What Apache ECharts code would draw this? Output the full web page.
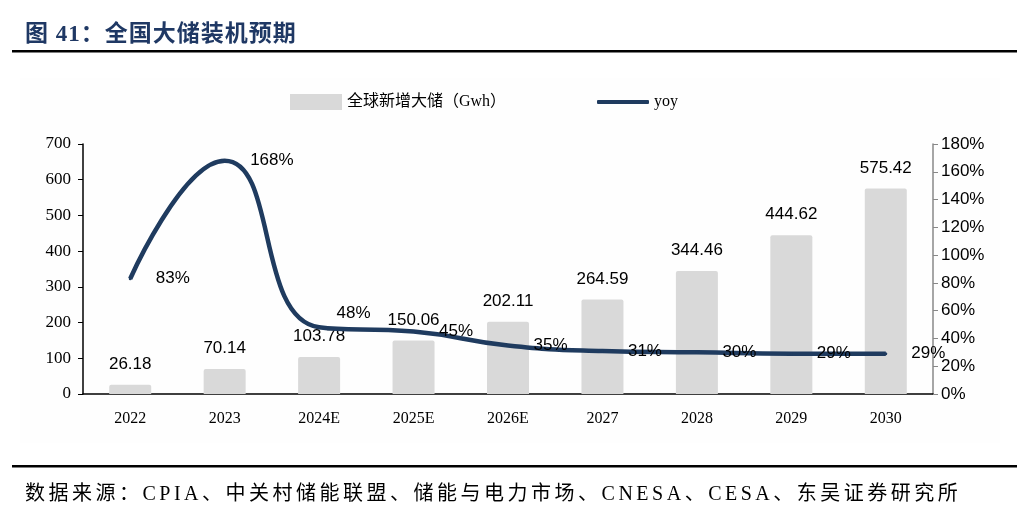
<!DOCTYPE html>
<html><head><meta charset="utf-8">
<script src="https://cdn.jsdelivr.net/npm/echarts@6/dist/echarts.min.js"></script>
<style>
html,body{margin:0;padding:0;background:#fff;}
#wrap{position:relative;width:1019px;height:510px;}
#c{position:absolute;left:0;top:0;width:1019px;height:510px;}
#title{position:absolute;left:25px;top:14px;font:bold 23px "Liberation Serif","Noto Sans CJK SC",serif;color:#1f3864;letter-spacing:1px;white-space:nowrap;}
#foot{position:absolute;left:25px;top:477px;font:20px "Liberation Serif","Noto Sans CJK SC",serif;color:#000;letter-spacing:3.5px;white-space:nowrap;}
</style>
</head><body><div id="wrap"><div id="c"></div>
<div id="title">图 41：全国大储装机预期</div>
<div id="foot">数据来源：CPIA、中关村储能联盟、储能与电力市场、CNESA、CESA、东吴证券研究所</div>
</div>
<script>
const categories = ['2022','2023','2024E','2025E','2026E','2027','2028','2029','2030'];
const storage = [26.18, 70.14, 103.78, 150.06, 202.11, 264.59, 344.46, 444.62, 575.42];
const yoy = [83, 168, 48, 45, 35, 31, 30, 29, 29];
const leftTicks = {min: 0, max: 700, interval: 100};
const rightTicks = {min: 0, max: 180, interval: 20};

const serif = '"Liberation Serif","Times New Roman","Noto Sans CJK SC",serif';
const sans = '"Liberation Sans",Arial,sans-serif';
const yoyData = yoy.map((v, i) => i === 2 ? {value: v, label: {offset: [-8, -14]}} : v);
const chart = echarts.init(document.getElementById('c'));
chart.setOption({
  animation: false,
  graphic: [
    {type:'rect', shape:{x:20,y:78,width:980,height:365}, style:{fill:'#fefefe'}, z:-10},
    {type:'rect', shape:{x:12,y:50,width:1005,height:2.5}, style:{fill:'#000'}},
    {type:'rect', shape:{x:12,y:465,width:1005,height:2.5}, style:{fill:'#000'}}
  ],
  legend: [
    {top: 89, left: 285, textStyle: {fontFamily: serif, fontSize: 16, color: '#000'},
     data: [{name:'全球新增大储（Gwh）', icon:'rect', itemStyle:{color:'#d9d9d9'}}],
     itemWidth: 52, itemHeight: 16, itemGap: 6},
    {top: 89, left: 592, textStyle: {fontFamily: serif, fontSize: 16, color: '#000'},
     data: [{name:'yoy', icon:'roundRect', itemStyle:{color:'#1f3b5f', opacity:1}}],
     itemWidth: 52, itemHeight: 4, itemGap: 2}
  ],
  grid: {left: 83, right: 86, top: 144, bottom: 116},
  xAxis: {
    type: 'category', data: categories,
    axisLine: {lineStyle:{color:'#000', width:1.5}},
    axisTick: {inside: true, length: 5, lineStyle:{color:'#000'}},
    axisLabel: {fontFamily: serif, fontSize: 16, color:'#000', margin: 17}
  },
  yAxis: [
    {type:'value', min:leftTicks.min, max:leftTicks.max, interval:leftTicks.interval,
     splitLine:{show:false},
     axisLine:{show:true, lineStyle:{color:'#000', width:1.5}},
     axisTick:{show:true, length:5, lineStyle:{color:'#000'}},
     axisLabel:{fontFamily: serif, fontSize:17, color:'#000', margin:12}},
    {type:'value', min:rightTicks.min, max:rightTicks.max, interval:rightTicks.interval,
     position:'right', splitLine:{show:false},
     axisLine:{show:true, lineStyle:{color:'#888', width:1.5}},
     axisTick:{show:true, length:5, lineStyle:{color:'#888'}},
     axisLabel:{fontFamily: sans, fontSize:17, color:'#000', margin:8, formatter:'{value}%'}}
  ],
  series: [
    {name:'全球新增大储（Gwh）', type:'bar', data: storage, barWidth: 42,
     itemStyle:{color:'#d9d9d9', borderRadius:[2,2,0,0]},
     label:{show:true, position:'top', distance:12, fontFamily:sans, fontSize:17, color:'#000'}},
    {name:'yoy', type:'line', yAxisIndex:1, data: yoyData, smooth:0.5, symbol:'circle', symbolSize:3,
     showSymbol:true,
     lineStyle:{color:'#1f3b5f', width:4.5}, itemStyle:{color:'#1f3b5f'},
     label:{show:true, position:'right', distance:24, fontFamily:sans, fontSize:17, color:'#000', formatter:'{c}%'},
     z: 5}
  ]
});
</script></body></html>
